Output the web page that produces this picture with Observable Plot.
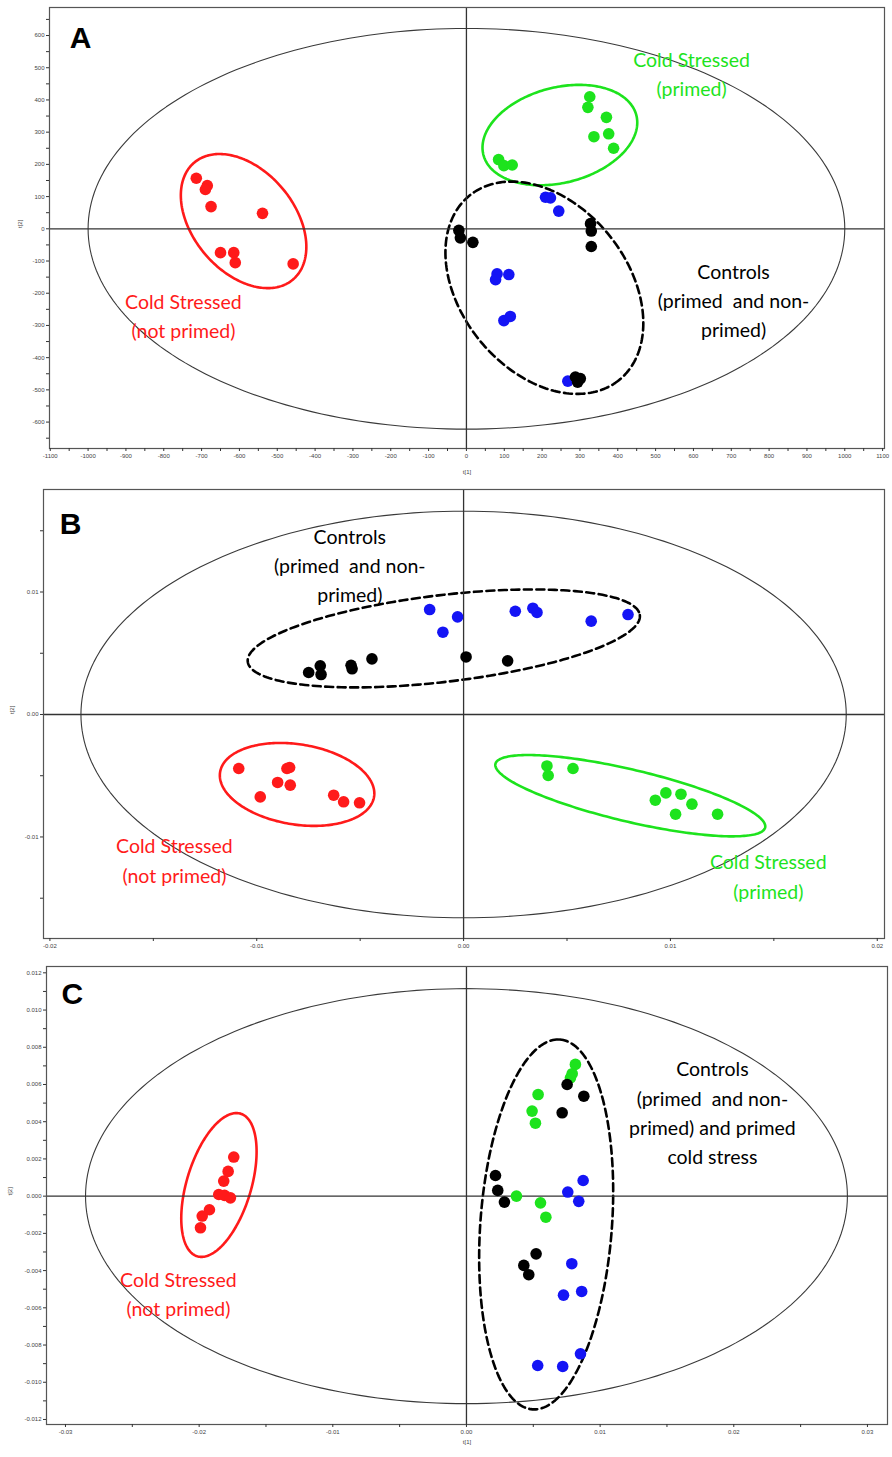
<!DOCTYPE html>
<html><head><meta charset="utf-8">
<script src="https://cdn.jsdelivr.net/npm/d3@7"></script>
<script src="https://cdn.jsdelivr.net/npm/@observablehq/plot@0.6"></script>
<style>
body{margin:0;background:#fff}
#chart svg{display:block}
</style>
</head><body><div id="chart"></div>
<script>
// ---------- Group names and colours ----------
const groups = ["stressedNotPrimed", "stressedPrimed", "controlBlue", "controlBlack"];
const groupColors = ["#ff1a1a", "#1de31d", "#1414f5", "#000000"];

// ---------- Panel A: scores t[1] vs t[2] ----------
const aRed = [[-714,157],[-685,134],[-690,122],[-675,69],[-539,48],[-650,-74],[-615,-74],[-611,-105],[-458,-109]];
const aGreen = [[326,410],[321,377],[370,346],[376,295],[337,286],[389,250],[85,215],[99,196],[121,198]];
const aBlue = [[209,98],[222,96],[244,55],[81,-140],[77,-158],[112,-142],[99,-285],[116,-272],[268,-473]];
const aBlack = [[-20,-5],[-16,-28],[17,-42],[328,16],[330,-7],[330,-55],[288,-460],[301,-465],[294,-476]];
// ellipses: centre and two conjugate semi-axes (data units)
const aEllipses = [
  {g:"hotelling", cx:0, cy:0, ux:1000, uy:0, vx:0, vy:622},
  {g:"stressedNotPrimed", cx:-589, cy:24, ux:130, uy:-182, vx:-103, vy:-101},
  {g:"stressedPrimed", cx:247, cy:291, ux:202, uy:62, vx:32, vy:-143},
  {g:"controls", cx:206, cy:-183, ux:197, uy:-287, vx:-172, vy:-162}
];
const aLabels = [
  {g:"stressedNotPrimed", x:-748, y:-265, text:"Cold Stressed\n(not primed)"},
  {g:"stressedPrimed", x:595, y:486, text:"Cold Stressed\n(primed)"},
  {g:"controlBlack", x:706, y:-216, text:"Controls\n(primed\u00a0 and non-\nprimed)"}
];
const aXTicks = d3.range(-1100, 1101, 100);
const aXMinor = d3.range(-1050, 1051, 100);
const aYTicks = d3.range(-600, 601, 100);
const aYMinor = d3.range(-650, 651, 100);

// ---------- Panel B ----------
const bRed = [[-0.01087,-0.00441],[-0.00983,-0.00673],[-0.00899,-0.00555],[-0.00854,-0.00441],[-0.00841,-0.00433],[-0.00838,-0.00577],[-0.00628,-0.00659],[-0.0058,-0.00713],[-0.00503,-0.00721]];
const bGreen = [[0.00403,-0.0042],[0.00409,-0.00498],[0.00529,-0.00441],[0.00927,-0.007],[0.00978,-0.0064],[0.01051,-0.00651],[0.01104,-0.00732],[0.01025,-0.00814],[0.01228,-0.00814]];
const bBlue = [[-0.00164,0.00857],[-0.001,0.00672],[-0.00029,0.00797],[0.0025,0.00843],[0.00335,0.00868],[0.00355,0.00833],[0.00617,0.00762],[0.00795,0.00816]];
const bBlack = [[-0.00749,0.00343],[-0.00693,0.00397],[-0.00689,0.00326],[-0.00544,0.00402],[-0.00539,0.00373],[-0.00443,0.00454],[0.00012,0.0047],[0.00213,0.00438]];
const bEllipses = [
  {g:"hotelling", cx:0, cy:0, ux:0.0185, uy:0, vx:0, vy:0.0166},
  {g:"controls", cx:-0.000957, cy:0.00621, ux:0.009478, uy:0.001902, vx:0.000246, vy:-0.003518},
  {g:"stressedNotPrimed", cx:-0.00805, cy:-0.00571, ux:0.003722, uy:-0.001004, vx:-0.000304, vy:-0.003233},
  {g:"stressedPrimed", cx:0.00806, cy:-0.00663, ux:0.00652, uy:-0.0026, vx:-0.00029, vy:-0.002065}
];
const bLabels = [
  {g:"controlBlack", x:-0.0055, y:0.0123, text:"Controls\n(primed\u00a0 and non-\nprimed)"},
  {g:"stressedNotPrimed", x:-0.01398, y:-0.01177, text:"Cold Stressed\n(not primed)"},
  {g:"stressedPrimed", x:0.01473, y:-0.01308, text:"Cold Stressed\n(primed)"}
];
const bXTicks = [-0.02, -0.01, 0, 0.01, 0.02];
const bXMinor = [-0.015, -0.005, 0.005, 0.015];
const bYTicks = [-0.01, 0, 0.01];
const bYMinor = [-0.015, -0.005, 0.005, 0.015];

// ---------- Panel C ----------
const cRed = [[-0.01741,0.0021],[-0.01783,0.00133],[-0.01816,0.00081],[-0.01853,0.00009],[-0.0181,0.00004],[-0.01766,-0.00009],[-0.01923,-0.00073],[-0.01977,-0.00107],[-0.0199,-0.0017]];
const cGreen = [[0.00815,0.00708],[0.00791,0.00658],[0.00778,0.00636],[0.00536,0.00546],[0.00491,0.00457],[0.00516,0.00392],[0.00374,0.0],[0.00554,-0.00036],[0.00594,-0.00113]];
const cBlue = [[0.00873,0.00084],[0.00758,0.00022],[0.0084,-0.00028],[0.00788,-0.00363],[0.00862,-0.00512],[0.00726,-0.00532],[0.00853,-0.00847],[0.00533,-0.0091],[0.0072,-0.00915]];
const cBlack = [[0.00753,0.006],[0.00878,0.00537],[0.00716,0.00448],[0.00217,0.00111],[0.00234,0.00031],[0.00284,-0.00032],[0.00521,-0.0031],[0.00429,-0.00372],[0.00466,-0.00422]];
const cEllipses = [
  {g:"hotelling", cx:0, cy:0, ux:0.0285, uy:0, vx:0, vy:0.01115},
  {g:"stressedNotPrimed", cx:-0.01852, cy:0.0006, ux:0.001623, uy:0.003831, vx:0.002304, vy:-0.000505},
  {g:"controls", cx:0.005963, cy:-0.00152, ux:0.001025, uy:0.009936, vx:0.004908, vy:-0.000263}
];
const cLabels = [
  {g:"controlBlack", x:0.0184, y:0.00458, text:"Controls\n(primed\u00a0 and non-\nprimed) and primed\ncold stress"},
  {g:"stressedNotPrimed", x:-0.02155, y:-0.00515, text:"Cold Stressed\n(not primed)"}
];
const cXTicks = [-0.03, -0.02, -0.01, 0, 0.01, 0.02, 0.03];
const cXMinor = [-0.025, -0.015, -0.005, 0.005, 0.015, 0.025];
const cYTicks = d3.range(-6, 7).map(i => i * 0.002);
const cYMinor = d3.range(-6, 6).map(i => i * 0.002 + 0.001);

// ---------- helpers ----------
function toPoints(arr, g) { return arr.map(([x, y]) => ({x, y, g})); }
function ellipsePath(e, n = 240) {
  return d3.range(n + 1).map(i => {
    const t = 2 * Math.PI * i / n;
    return {x: e.cx + e.ux * Math.cos(t) + e.vx * Math.sin(t),
            y: e.cy + e.uy * Math.cos(t) + e.vy * Math.sin(t)};
  });
}
const ellipseStroke = {hotelling: "#3a3a3a", stressedNotPrimed: "#ff1a1a", stressedPrimed: "#1de31d", controls: "#000"};
const labelColor = Object.fromEntries(groups.map((g, i) => [g, groupColors[i]]));

function panel(o) {
  const pts = [
    ...toPoints(o.red, "stressedNotPrimed"),
    ...toPoints(o.green, "stressedPrimed"),
    ...toPoints(o.blue, "controlBlue"),
    ...toPoints(o.black, "controlBlack")
  ];
  const marks = [];
  for (const e of o.ellipses) {
    const big = e.g === "hotelling";
    marks.push(Plot.line(ellipsePath(e), {
      x: "x", y: "y",
      stroke: ellipseStroke[e.g],
      strokeWidth: big ? 1.1 : 2.6,
      strokeDasharray: e.g === "controls" ? "8,4.5" : null
    }));
  }
  marks.push(Plot.ruleX([0], {stroke: "#333", strokeWidth: 1.3}));
  marks.push(Plot.ruleY([0], {stroke: "#333", strokeWidth: 1.3}));
  marks.push(Plot.dot(pts, {x: "x", y: "y", fill: "g", r: 5.8}));
  for (const l of o.labels) {
    marks.push(Plot.text([l], {x: "x", y: "y", text: "text", fill: labelColor[l.g],
      fontSize: 19.5, fontFamily: "Lato", lineHeight: 1.5}));
  }
  marks.push(Plot.text([o.letter], {x: () => o.letterPos[0], y: () => o.letterPos[1], text: d => d,
    fontSize: 30, fontWeight: 900, fontFamily: "Liberation Sans", fill: "#000"}));
  marks.push(Plot.frame({stroke: "#555", strokeWidth: 1.2}));
  const axStyle = {fontSize: 6, fill: "#444", stroke: "#333", tickSize: 3, tickPadding: 2, fontFamily: "Liberation Sans", label: null};
  marks.push(Plot.axisX(o.xTicks, {...axStyle, tickFormat: o.xFmt}));
  marks.push(Plot.axisX(o.xMinor, {...axStyle, tickFormat: () => ""}));
  marks.push(Plot.axisY(o.yTicks, {...axStyle, tickFormat: o.yFmt}));
  marks.push(Plot.axisY(o.yMinor, {...axStyle, tickFormat: () => ""}));
  marks.push(Plot.text(["t[2]"], {frameAnchor: "left", dx: o.t2dx, rotate: -90, fontSize: 6, fill: "#444", fontFamily: "Liberation Sans"}));
  if (o.t1dy != null) marks.push(Plot.text(["t[1]"], {frameAnchor: "bottom", dy: o.t1dy, fontSize: 6, fill: "#444", fontFamily: "Liberation Sans"}));
  return Plot.plot({
    width: 892, height: o.height,
    marginTop: o.m[0], marginRight: o.m[1], marginBottom: o.m[2], marginLeft: o.m[3],
    x: {domain: o.xDomain, label: null},
    y: {domain: o.yDomain, label: null},
    color: {domain: groups, range: groupColors},
    style: {background: "#fff", overflow: "visible"},
    marks
  });
}

const fmtInt = d => d3.format("d")(d).replace("−", "-");
const fmt2 = d => (d < 0 ? "-" : "") + Math.abs(d).toFixed(2);
const fmt3 = d => (d < 0 ? "-" : "") + Math.abs(d).toFixed(3);

const chart = document.getElementById("chart");
chart.append(panel({
  height: 480, m: [7, 8, 32, 49],
  xDomain: [-1102, 1105], yDomain: [-682, 687],
  red: aRed, green: aGreen, blue: aBlue, black: aBlack,
  ellipses: aEllipses, labels: aLabels,
  letter: "A", letterPos: [-1020, 590],
  xTicks: aXTicks, xMinor: aXMinor, yTicks: aYTicks, yMinor: aYMinor,
  xFmt: fmtInt, yFmt: fmtInt, t2dx: -29, t1dy: 25
}));
chart.append(panel({
  height: 480, m: [9, 8, 22, 43],
  xDomain: [-0.02031, 0.02035], yDomain: [-0.01829, 0.01837],
  red: bRed, green: bGreen, blue: bBlue, black: bBlack,
  ellipses: bEllipses, labels: bLabels,
  letter: "B", letterPos: [-0.0190, 0.01553],
  xTicks: bXTicks, xMinor: bXMinor, yTicks: bYTicks, yMinor: bYMinor,
  xFmt: fmt2, yFmt: fmt2, t2dx: -31, t1dy: null
}));
chart.append(panel({
  height: 497, m: [6, 5, 33, 46],
  xDomain: [-0.03142, 0.0315], yDomain: [-0.01227, 0.01234],
  red: cRed, green: cGreen, blue: cBlue, black: cBlack,
  ellipses: cEllipses, labels: cLabels,
  letter: "C", letterPos: [-0.02948, 0.01084],
  xTicks: cXTicks, xMinor: cXMinor, yTicks: cYTicks, yMinor: cYMinor,
  xFmt: fmt2, yFmt: fmt3, t2dx: -36, t1dy: 19
}));
</script>
</body></html>
